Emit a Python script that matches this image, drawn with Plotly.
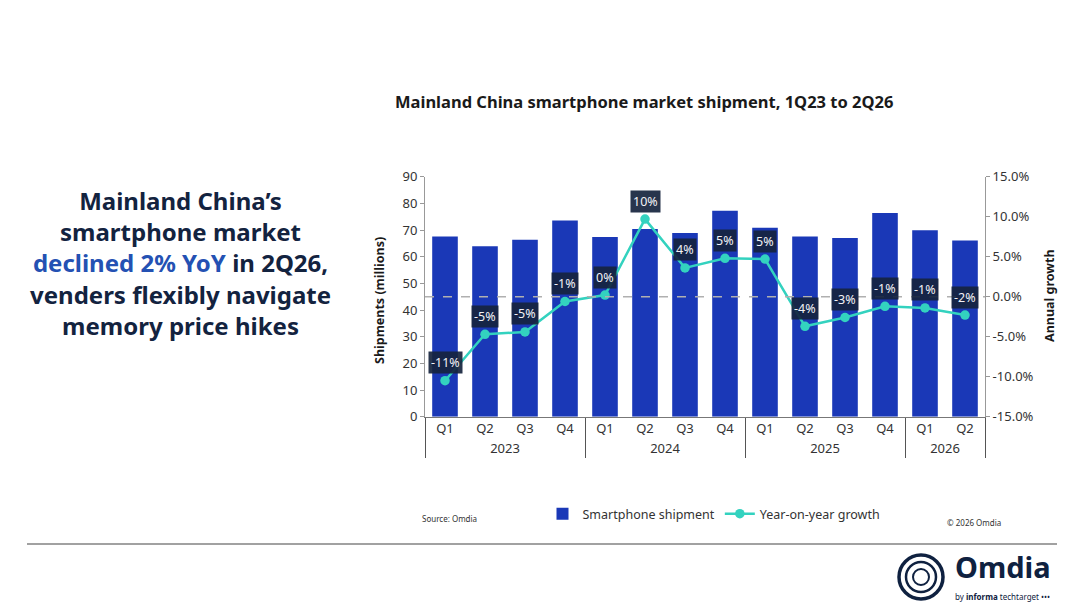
import plotly.graph_objects as go

years = ["2023"] * 4 + ["2024"] * 4 + ["2025"] * 4 + ["2026"] * 2
quarters = ["Q1", "Q2", "Q3", "Q4", "Q1", "Q2", "Q3", "Q4",
            "Q1", "Q2", "Q3", "Q4", "Q1", "Q2"]
shipments = [67.6, 63.9, 66.4, 73.6, 67.4, 70.4, 68.9, 77.2,
             70.9, 67.6, 67.0, 76.4, 69.9, 66.1]
yoy_growth = [-10.5, -4.7, -4.4, -0.6, 0.2, 9.7, 3.6, 4.8,
              4.7, -3.7, -2.6, -1.2, -1.4, -2.3]
yoy_labels = ["-11%", "-5%", "-5%", "-1%", "0%", "10%", "4%", "5%",
              "5%", "-4%", "-3%", "-1%", "-1%", "-2%"]
left_ticks = list(range(0, 91, 10))
right_ticks = [-15, -10, -5, 0, 5, 10, 15]
right_tick_text = [f"{v:.1f}%" for v in right_ticks]

W, H = 1080, 608
OX, OY = 8, 8  # page body margin offset
FONT = "Noto Sans"
NAVY = "#13233f"

def px(x):
    return (x - OX) / W

def py(y):
    return 1 - (y - OY) / H

fig = go.Figure()
fig.add_trace(go.Bar(
    x=[years, quarters], y=shipments, name="Smartphone shipment",
    marker=dict(color="#1a38b7", line=dict(width=0)), width=0.64,
))
fig.add_trace(go.Scatter(
    x=[years, quarters], y=yoy_growth, name="Year-on-year growth", yaxis="y2",
    mode="lines+markers", line=dict(color="#33d2bf", width=2.5),
    marker=dict(color="#33d2bf", size=9.5),
))

annotations = []
for i, (g, lab) in enumerate(zip(yoy_growth, yoy_labels)):
    annotations.append(dict(
        x=i, y=g, xref="x", yref="y2", text=lab, showarrow=False, yshift=18,
        xanchor="center", yanchor="middle",
        font=dict(family=FONT, size=12.5, color="#f2f2f6"),
        bgcolor="rgba(22,36,62,0.92)", borderpad=2,
    ))

def note(x, y, text, size, color="#1a1a1a", xanchor="center", yanchor="middle", **kw):
    return dict(x=px(x), y=py(y), xref="paper", yref="paper", showarrow=False,
                xanchor=xanchor, yanchor=yanchor, text=text,
                font=dict(family=FONT, size=size, color=color), **kw)

annotations += [
    note(644, 101, "<b>Mainland China smartphone market shipment, 1Q23 to 2Q26</b>", 16.5),
    note(180, 263, ("<b>Mainland China’s<br>smartphone market<br>"
                    "<span style='color:#2451b3'>declined 2% YoY</span> in 2Q26,<br>"
                    "venders flexibly navigate<br>memory price hikes</b>"),
         24, color=NAVY, align="center"),
    note(380, 301, "<b>Shipments (millions)</b>", 12.5, textangle=-90),
    note(1050, 296, "<b>Annual growth</b>", 12.5, textangle=-90),
    note(420, 518, "Source: Omdia", 8, color="#333", xanchor="left"),
    note(1003, 522, "© 2026 Omdia", 8, color="#333", xanchor="right"),
    note(1053, 588, "<b>Omdia</b>", 29, color="#0f2140", xanchor="right", yanchor="bottom"),
    note(1052, 589, "by <b>informa</b> techtarget •••", 8, color="#0f2140",
         xanchor="right", yanchor="top"),
]

shapes = [
    dict(type="line", xref="paper", yref="y2", x0=px(425), x1=px(985), y0=0, y1=0,
         line=dict(color="#b0b0b0", width=1.5, dash="dash"), layer="above"),
    dict(type="line", xref="paper", yref="paper", x0=px(27), x1=px(1057),
         y0=py(544), y1=py(544), line=dict(color="#444", width=1.2)),
]
for r, w in [(22, 3.5), (15, 2.5), (8, 2)]:
    shapes.append(dict(type="circle", xref="paper", yref="paper",
                       xsizemode="pixel", ysizemode="pixel",
                       xanchor=px(921), yanchor=py(577),
                       x0=-r, x1=r, y0=-r, y1=r,
                       line=dict(color="#0f2140", width=w)))

axis_font = dict(family=FONT, size=13, color="#333")
fig.update_layout(
    template="none",
    width=W, height=H, margin=dict(l=0, r=0, t=0, b=0, pad=0),
    paper_bgcolor="white", plot_bgcolor="white",
    font=dict(family=FONT),
    xaxis=dict(domain=[px(425), px(985)], type="multicategory", automargin=False,
               range=[-0.5, len(quarters) - 0.5],
               tickfont=axis_font, showline=True, linecolor="#777",
               showdividers=True, dividercolor="#555", dividerwidth=1,
               ticks="", showgrid=False, zeroline=False),
    yaxis=dict(domain=[py(416.7), py(176.7)], range=[0, 90], automargin=False,
               tickvals=left_ticks, tickfont=axis_font,
               showline=True, linecolor="#999", ticks="outside", ticklen=4,
               tickcolor="#999", showgrid=False, zeroline=False),
    yaxis2=dict(overlaying="y", side="right", range=[-15, 15], automargin=False,
                tickvals=right_ticks, ticktext=right_tick_text,
                tickfont=axis_font, showline=True, linecolor="#999",
                ticks="outside", ticklen=4, tickcolor="#999",
                showgrid=False, zeroline=False),
    legend=dict(orientation="h", x=px(714), xanchor="center", y=py(514),
                yanchor="middle", font=dict(family=FONT, size=12.5, color="#333"),
                bgcolor="rgba(0,0,0,0)"),
    annotations=annotations, shapes=shapes,
)

fig.write_html("out.html")
